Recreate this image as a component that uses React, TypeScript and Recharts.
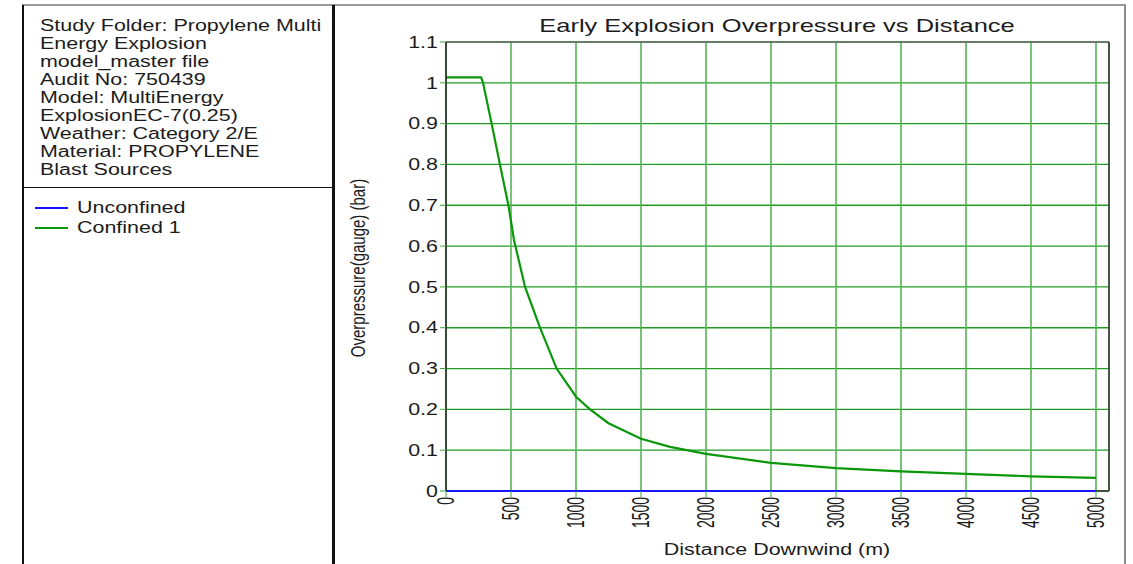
import React from 'react';
import { LineChart, Line, XAxis, YAxis, CartesianGrid, ReferenceLine } from 'recharts';

const distances = [0, 270, 285, 351, 415, 480, 523, 608, 723, 851, 1000, 1108, 1250, 1500, 1723, 2000, 2500, 3000, 3500, 4000, 4500, 5000];
const confined1 = [1.0135, 1.0135, 1.0, 0.9, 0.8, 0.7, 0.615, 0.5, 0.4, 0.3, 0.231, 0.2, 0.166, 0.128, 0.108, 0.091, 0.069, 0.056, 0.048, 0.042, 0.036, 0.032];
const unconfinedDistances = [0, 5000];
const unconfinedValues = [0, 0];

const xTicks = [0, 500, 1000, 1500, 2000, 2500, 3000, 3500, 4000, 4500, 5000];
const yTicks = [0, 0.1, 0.2, 0.3, 0.4, 0.5, 0.6, 0.7, 0.8, 0.9, 1, 1.1];

const infoLines = [
  'Study Folder: Propylene Multi',
  'Energy Explosion',
  'model_master file',
  'Audit No: 750439',
  'Model: MultiEnergy',
  'ExplosionEC-7(0.25)',
  'Weather: Category 2/E',
  'Material: PROPYLENE',
  'Blast Sources',
];

const legendItems = [
  { name: 'Unconfined', color: '#1414ff' },
  { name: 'Confined 1', color: '#0a980a' },
];

const confinedData = distances.map((d, i) => ({ d, v: confined1[i] }));
const unconfinedData = unconfinedDistances.map((d, i) => ({ d, v: unconfinedValues[i] }));

const FONT = '"Liberation Sans", Arial, sans-serif';
const TEXT = '#1c1c1c';
const SX = 1.34; // the reference text is stretched sideways

const YTick = (props: any) => {
  const { x, y, payload } = props;
  return (
    <g transform={`translate(${x},${y})`}>
      <text transform={`scale(${SX},1)`} textAnchor="end" dy="0.36em" fontSize={16} fill={TEXT} fontFamily={FONT}>
        {payload.value}
      </text>
    </g>
  );
};

const XTick = (props: any) => {
  const { x, y, payload } = props;
  return (
    <g transform={`translate(${x},${y - 2}) rotate(-90)`}>
      <text transform="scale(1,1.65)" textAnchor="end" dy="0.36em" fontSize={14} fill={TEXT} fontFamily={FONT}>
        {payload.value}
      </text>
    </g>
  );
};

const stretched = (extra: React.CSSProperties = {}): React.CSSProperties => ({
  position: 'absolute',
  whiteSpace: 'nowrap',
  fontFamily: FONT,
  color: TEXT,
  ...extra,
});

export default function App() {
  return (
    <div style={{ position: 'absolute', left: 0, top: 0, width: 1133, height: 564, background: '#fff', overflow: 'hidden' }}>
      {/* frames */}
      <div style={{ position: 'absolute', left: 22, top: 4, width: 1102, height: 600, borderTop: '2px solid #9a9a9a', borderRight: '2px solid #8a8a8a' }} />
      <div style={{ position: 'absolute', left: 22, top: 5, width: 308, height: 600, borderLeft: '2px solid #111', borderRight: '3px solid #111' }} />
      <div style={{ position: 'absolute', left: 22, top: 187, width: 310, height: 0, borderTop: '1px solid #111' }} />

      {/* study info */}
      {infoLines.map((t, i) => (
        <div
          key={t}
          style={stretched({ left: 40, top: 17 + i * 18, fontSize: 16, lineHeight: '18px', transform: `scaleX(${SX})`, transformOrigin: 'left center' })}
        >
          {t}
        </div>
      ))}

      {/* legend */}
      {legendItems.map((item, i) => (
        <React.Fragment key={item.name}>
          <div style={{ position: 'absolute', left: 35, top: 207 + i * 20, width: 33, height: 0, borderTop: `2px solid ${item.color}` }} />
          <div style={stretched({ left: 77, top: 199 + i * 20, fontSize: 16, lineHeight: '18px', transform: `scaleX(${SX})`, transformOrigin: 'left center' })}>
            {item.name}
          </div>
        </React.Fragment>
      ))}

      {/* title and axis labels */}
      <div style={stretched({ left: 777, top: 26, fontSize: 19, transform: `translate(-50%,-50%) scaleX(${SX})` })}>
        Early Explosion Overpressure vs Distance
      </div>
      <div style={stretched({ left: 777, top: 550, fontSize: 16, transform: `translate(-50%,-50%) scaleX(${SX})` })}>
        Distance Downwind (m)
      </div>
      <div style={stretched({ left: 357, top: 268, fontSize: 15, transform: 'translate(-50%,-50%) rotate(-90deg) scale(1,1.4)' })}>
        Overpressure(gauge) (bar)
      </div>

      <div style={{ position: 'absolute', left: 0, top: 0 }}>
        <LineChart width={1133} height={564} margin={{ top: 42, right: 24, bottom: 13, left: 386 }}>
          <CartesianGrid vertical={false} stroke="#229c22" strokeWidth={1.3} />
          <CartesianGrid horizontal={false} stroke="#55b455" strokeWidth={1.6} />
          <XAxis
            type="number"
            dataKey="d"
            domain={[0, 5100]}
            ticks={xTicks}
            height={60}
            tick={<XTick />}
            tickSize={6}
            axisLine={false}
            tickLine={{ stroke: '#3aa83a' }}
          />
          <YAxis
            type="number"
            dataKey="v"
            domain={[0, 1.1]}
            ticks={yTicks}
            width={60}
            tick={<YTick />}
            tickSize={6}
            axisLine={{ stroke: '#222', strokeWidth: 1.5 }}
            tickLine={{ stroke: '#3aa83a' }}
          />
          <ReferenceLine y={1.1} stroke="#6a6a6a" strokeWidth={1.5} />
          <ReferenceLine x={5100} stroke="#333" strokeWidth={1.5} />
          <ReferenceLine
            segment={[{ x: 5000, y: 0 }, { x: 5100, y: 0 }]}
            stroke="#333"
            strokeWidth={1.5}
          />
          <Line
            data={confinedData}
            dataKey="v"
            type="linear"
            stroke="#0a980a"
            strokeWidth={2.2}
            dot={false}
            isAnimationActive={false}
            name="Confined 1"
          />
          <Line
            data={unconfinedData}
            dataKey="v"
            type="linear"
            stroke="#1414ff"
            strokeWidth={2.2}
            dot={false}
            isAnimationActive={false}
            name="Unconfined"
          />
        </LineChart>
      </div>
    </div>
  );
}
